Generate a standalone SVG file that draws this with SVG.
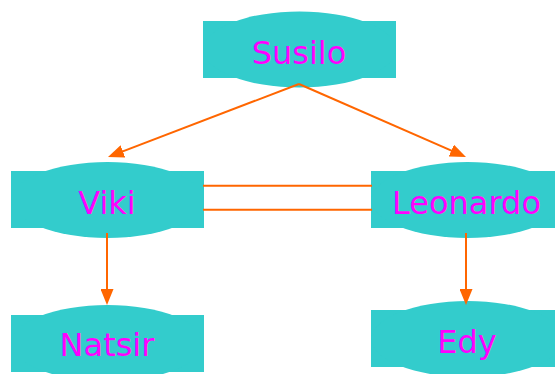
<svg xmlns="http://www.w3.org/2000/svg" width="555" height="374" viewBox="0 0 555 374">
<defs>
<style>
.shape{fill:#33cccc;stroke:none}
.label{font-family:"DejaVu Sans",Verdana,sans-serif;font-size:32px;fill:#ff00ff;text-anchor:middle}
.edge{stroke:#ff6600;stroke-width:2;fill:none}
</style>
<marker id="arr" markerUnits="userSpaceOnUse" viewBox="0 0 16 13" refX="12" refY="6.5" markerWidth="16" markerHeight="13" orient="auto">
<path d="M0,0 L16,6.5 L0,13 z" fill="#ff6600"/>
</marker>
</defs>
<rect width="555" height="374" fill="#ffffff"/>
<g id="node-susilo">
<rect class="shape" x="203" y="21" width="193" height="57"/>
<ellipse class="shape" cx="299.5" cy="49.5" rx="96" ry="38"/>
<text class="label" x="299" y="64">Susilo</text>
</g>
<g id="node-viki">
<rect class="shape" x="11" y="171" width="193" height="57"/>
<ellipse class="shape" cx="107.5" cy="200" rx="96" ry="38"/>
<text class="label" x="107" y="214">Viki</text>
</g>
<g id="node-leonardo">
<rect class="shape" x="371" y="171" width="193" height="57"/>
<ellipse class="shape" cx="467.5" cy="200" rx="96" ry="38"/>
<text class="label" x="466.5" y="214">Leonardo</text>
</g>
<g id="node-natsir">
<rect class="shape" x="11" y="315" width="193" height="57"/>
<ellipse class="shape" cx="107.5" cy="343" rx="96" ry="38"/>
<text class="label" x="107" y="356">Natsir</text>
</g>
<g id="node-edy">
<rect class="shape" x="371" y="310" width="193" height="57"/>
<ellipse class="shape" cx="467.5" cy="339" rx="96" ry="38"/>
<text class="label" x="467" y="352.5">Edy</text>
</g>
<g id="connectors">
<path class="edge" d="M299,84 L111.7,155.6" marker-end="url(#arr)"/>
<path class="edge" d="M299,84 L462.3,155.4" marker-end="url(#arr)"/>
<path class="edge" d="M203,185.7 L372,185.7"/>
<path class="edge" d="M203,209.7 L372,209.7"/>
<path class="edge" d="M107,233 L107,301" marker-end="url(#arr)"/>
<path class="edge" d="M466,233 L466,301" marker-end="url(#arr)"/>
</g>
</svg>
